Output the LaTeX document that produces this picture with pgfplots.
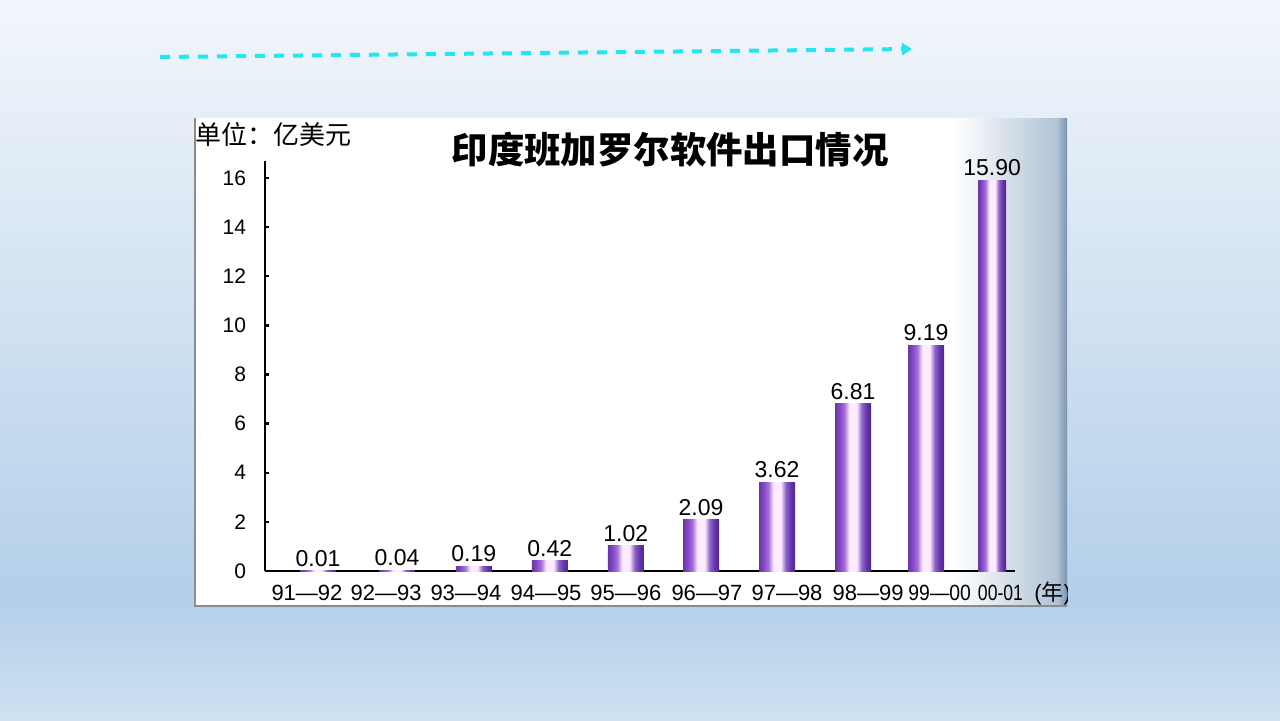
\documentclass[border=0pt]{standalone}
\usepackage{graphicx}
\usepackage{pgfplots}
\pgfplotsset{compat=1.18}
\usetikzlibrary{arrows.meta}
\usepackage{fontspec}
\setmainfont{Liberation Sans}
\newfontfamily\cjk{Noto Sans CJK SC}
\definecolor{bgtop}{HTML}{F2F6FB}
\definecolor{bgmid}{HTML}{B3CFE9}
\definecolor{bgbot}{HTML}{CFE1F2}
\definecolor{barL}{HTML}{8444C8}
\definecolor{barR}{HTML}{6532B0}
\definecolor{arrowc}{HTML}{22E6F0}
\definecolor{edgec}{HTML}{B0C3D6}
\definecolor{edgedark}{HTML}{7A94AE}
\pgfdeclarehorizontalshading{barshade}{100bp}{color(0bp)=(barL!80!black); color(25bp)=(barL!80!black); color(31bp)=(barL); color(38bp)=(barL!75!white); color(45bp)=(white!92!magenta); color(55bp)=(white!92!magenta); color(62bp)=(barR!75!white); color(69bp)=(barR); color(75bp)=(barR!80!black); color(100bp)=(barR!80!black)}
\pgfplotsset{mybar/.style={ybar, bar width=18pt, draw=none, shade, shading=barshade,
  nodes near coords, point meta=explicit symbolic}}

\begin{document}
\begin{tikzpicture}
\begin{scope}[x=0.5pt,y=0.5pt]
% background
\shade[top color=bgtop, bottom color=bgmid] (0,120) rectangle (1280,720);
\shade[top color=bgmid, bottom color=bgbot] (0,0) rectangle (1280,120);
% dashed arrow
\draw[arrowc, line width=2pt, dash pattern=on 5pt off 4.5pt, -{Triangle[length=5pt,width=6pt]}] (160,663) -- (912,671);
% panel
\fill[white] (195,114) rectangle (1067,602);
\shade[left color=white, right color=edgec] (955,114) rectangle (1057,602);
\shade[left color=edgec, right color=edgedark] (1057,114) rectangle (1067,602);
\draw[black!45, line width=0.6pt] (195,602) -- (195,114) -- (1067,114);
\end{scope}
\begin{scope}
\clip (97.5pt,57pt) rectangle (533.5pt,301pt);
\begin{scope}[x=0.5pt,y=0.5pt]
\node[anchor=west, inner sep=0pt] at (195,585) {\cjk\fontsize{13}{14}\selectfont 单位：亿美元};
\node[inner sep=0pt] at (670,570) {\cjk\bfseries\fontsize{18.2}{20}\selectfont 印度班加罗尔软件出口情况};
\node[anchor=west, inner sep=0pt] at (1034,127) {\fontsize{11}{12}\selectfont (\cjk 年\normalfont)};
\end{scope}
\begin{axis}[
  at={(132.5pt,74.5pt)}, anchor=south west,
  scale only axis, width=375pt, height=205pt,
  xmin=-0.6974, xmax=9.171, ymin=0, ymax=16.69,
  enlargelimits=false,
  axis lines=left,
  axis line style={line width=1.4pt, -},
  ytick={0,2,...,16},
  xtick={-0.145,0.895,1.947,3.0,4.05,5.118,6.171,7.237,8.18,8.98},
  xticklabels={91—92,92—93,93—94,94—95,95—96,96—97,97—98,98—99,\scalebox{0.88}[1]{99—00},\scalebox{0.8}[1]{00-01}},
  xtick style={draw=none},
  ytick style={line width=1.2pt, black},
  tick align=inside,
  major tick length=2.2pt,
  /pgf/number format/assume math mode=true,
  yticklabel style={font=\fontsize{10.5}{12}\selectfont, xshift=-6pt},
  xticklabel style={font=\fontsize{11}{12}\selectfont, yshift=-3.5pt},
  nodes near coords style={font=\fontsize{11.5}{12}\selectfont, text=black, inner sep=2pt},
]
\addplot[mybar] coordinates {(0,0.01) [0.01]};
\addplot[mybar] coordinates {(1.04,0.04) [0.04]};
\addplot[mybar] coordinates {(2.05,0.19) [0.19]};
\addplot[mybar] coordinates {(3.05,0.42) [0.42]};
\addplot[mybar] coordinates {(4.05,1.02) [1.02]};
\addplot[mybar] coordinates {(5.04,2.09) [2.09]};
\addplot[mybar] coordinates {(6.04,3.62) [3.62]};
\addplot[mybar] coordinates {(7.04,6.81) [6.81]};
\addplot[mybar] coordinates {(8.00,9.19) [9.19]};
\addplot[mybar, bar width=14pt] coordinates {(8.87,15.90) [15.90]};
\end{axis}
\end{scope}
\end{tikzpicture}
\end{document}
